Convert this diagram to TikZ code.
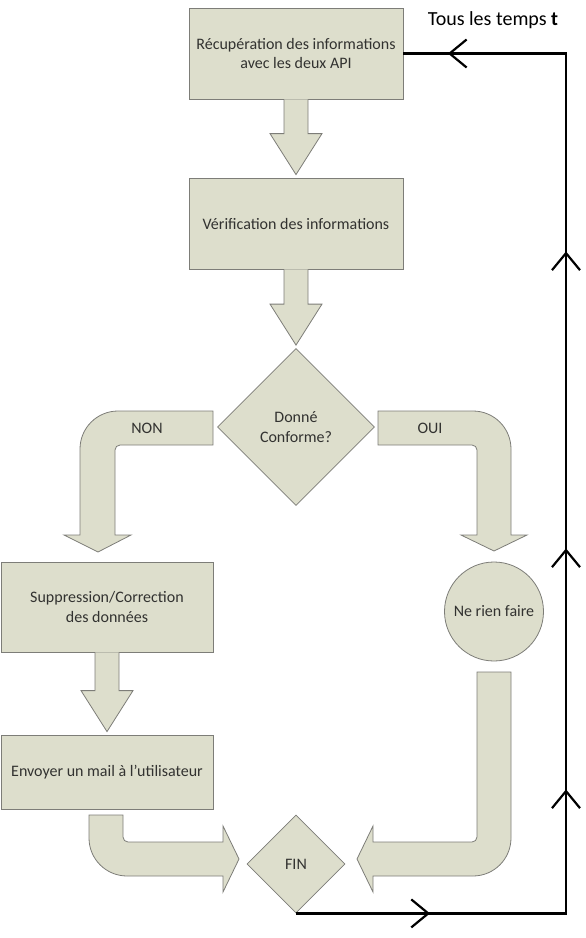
\documentclass[tikz,border=0pt]{standalone}
\usepackage{fontspec}
\setmainfont{Carlito}
\usetikzlibrary{shapes.geometric,arrows.meta,decorations.markings,calc}

\definecolor{fond}{RGB}{221,222,204}
\definecolor{bord}{RGB}{125,125,120}
\definecolor{texte}{RGB}{50,50,48}

\tikzset{
    boite/.style={draw=bord, fill=fond, text=texte, align=center, inner sep=0pt,
        line width=0.8pt, font=\fontsize{16}{19.5}\selectfont},
    losange/.style={boite, diamond, aspect=1},
    rond/.style={boite, circle},
    bloc/.style={draw=bord, fill=fond, line width=0.8pt},
    etiquette/.style={text=texte, font=\fontsize{16}{19.5}\selectfont},
    chevron/.tip={Straight Barb[length=17pt, width=28pt]},
    boucle/.style={line width=2.2pt, decoration={markings,
        mark=at position 134pt with {\arrow{chevron}},
        mark=at position 394pt with {\arrow{chevron}},
        mark=at position 635pt with {\arrow{chevron}},
        mark=at position 932pt with {\arrow{chevron}},
        mark=at position 1248pt with {\arrow{chevron}}},
        postaction={decorate}}
}

% straight block arrow from one anchor down to another
\newcommand{\blocfleche}[2]{
    \draw[bloc] ($(#1)+(-12,0)$) -- ($(#2)+(-12,-44)$) -- ($(#2)+(-26,-44)$)
        -- ($(#2)+(0,-3)$) -- ($(#2)+(26,-44)$) -- ($(#2)+(12,-44)$) -- ($(#1)+(12,0)$);
}

\begin{document}
\begin{tikzpicture}[x=1pt, y=-1pt]
    % Globals
    \pgfmathsetmacro{\colX}{296}
    \pgfmathsetmacro{\leftX}{107}
    \pgfmathsetmacro{\loopX}{566}

    \useasboundingbox (0,0) rectangle (586,938);

    % main column
    \node[boite, minimum width=214pt, minimum height=91pt] (RECUP) at (\colX, 53.5)
        {R\'ecup\'eration des informations\\avec les deux API};
    \node[boite, minimum width=214pt, minimum height=91pt] (VERIF) at (\colX, 223.5)
        {V\'erification des informations};
    \node[losange, minimum size=157pt] (TEST) at (\colX, 427) {Donn\'e\\Conforme?};
    \node[losange, minimum size=98pt] (FIN) at (\colX, 864) {FIN};

    % NON branch
    \node[boite, minimum width=212pt, minimum height=90pt] (SUPPR) at (\leftX, 607)
        {Suppression/Correction\\des donn\'ees};
    \node[boite, minimum width=212pt, minimum height=74pt] (MAIL) at (\leftX, 772)
        {Envoyer un mail \`a l’utilisateur};

    % OUI branch
    \node[rond, minimum size=99pt] (RIEN) at (494, 611.5) {Ne rien faire};

    \blocfleche{RECUP.south}{VERIF.north}
    \blocfleche{VERIF.south}{TEST.north}
    \blocfleche{SUPPR.south}{MAIL.north}

    % bent arrows
    \draw[bloc] (213,411) -- (118,411) arc[start angle=270, end angle=180, radius=38]
        -- (80,535) -- (64,535) -- (98,552) -- (131,535) -- (115,535) -- (115,450)
        arc[start angle=180, end angle=270, radius=5] -- (213,445) -- cycle;
    \node[etiquette] (NON) at (147,428) {NON};

    \draw[bloc] (378,411) -- (473,411) arc[start angle=270, end angle=360, radius=38]
        -- (511,535) -- (527,535) -- (494,551) -- (461,535) -- (477,535) -- (477,450)
        arc[start angle=0, end angle=-90, radius=5] -- (378,445) -- cycle;
    \node[etiquette] (OUI) at (430,428) {OUI};

    \draw[bloc] (89,815) -- (89,838) arc[start angle=180, end angle=90, radius=38]
        -- (223,876) -- (223,892) -- (239,859) -- (223,826) -- (223,842) -- (128,842)
        arc[start angle=90, end angle=180, radius=5] -- (123,815) -- cycle;

    \draw[bloc] (511,672) -- (511,838) arc[start angle=0, end angle=90, radius=38]
        -- (373,876) -- (373,892) -- (357,859) -- (373,826) -- (373,842) -- (472,842)
        arc[start angle=90, end angle=0, radius=5] -- (477,672) -- cycle;

    % loop back
    \coordinate (LOOP_NE) at (\loopX, 53.5);
    \draw[boucle] (FIN.south) -| (LOOP_NE) -- (RECUP.east);
    \node[font=\fontsize{20}{24}\selectfont] (TEMPS) at (493,20) {Tous les temps \textbf{t}};

\end{tikzpicture}
\end{document}
